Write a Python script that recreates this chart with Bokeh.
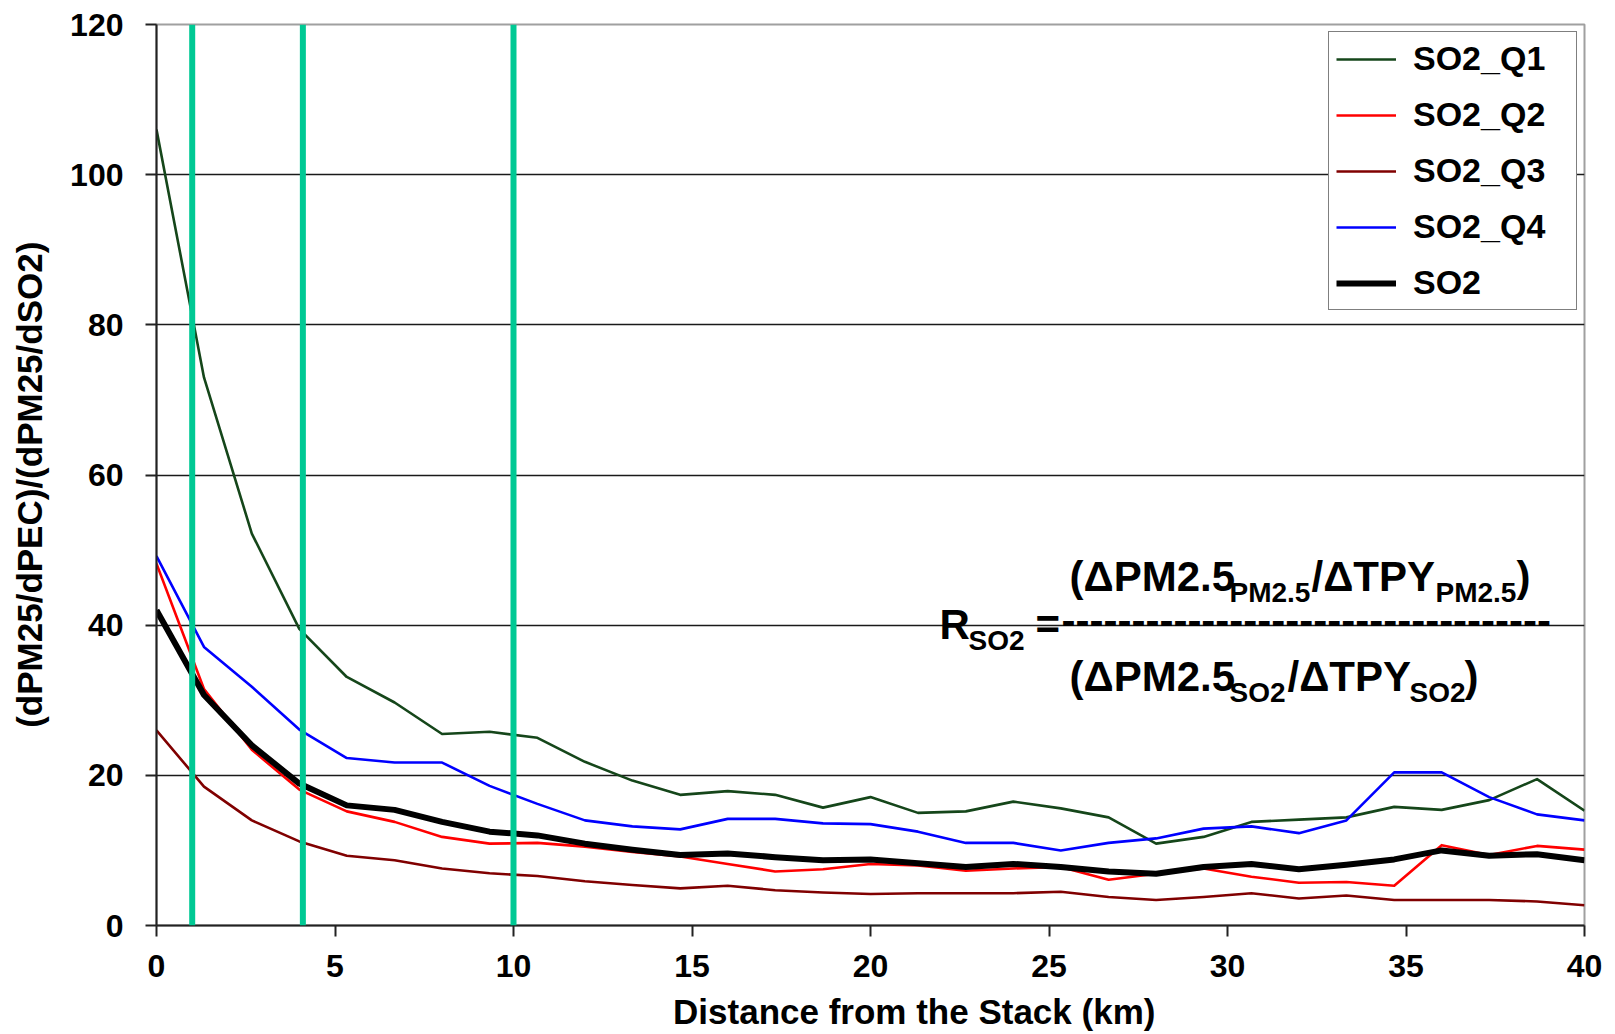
from bokeh.plotting import figure
from bokeh.models import Span, Label, Legend, LegendItem, FixedTicker, Range1d
from bokeh.embed import file_html
from bokeh.resources import INLINE

# ---------------- data ----------------
distance_km = [0, 1.33, 2.67, 4, 5.33, 6.67, 8, 9.33, 10.67, 12, 13.33, 14.67, 16,
               17.33, 18.67, 20, 21.33, 22.67, 24, 25.33, 26.67, 28, 29.33, 30.67,
               32, 33.33, 34.67, 36, 37.33, 38.67, 40]

so2_q1 = [106, 73, 52.2, 39.5, 33.1, 29.7, 25.5, 25.8, 25.0, 21.8, 19.3, 17.4, 17.9,
          17.4, 15.7, 17.1, 15.0, 15.2, 16.5, 15.6, 14.4, 10.9, 11.8, 13.8, 14.1,
          14.4, 15.8, 15.4, 16.7, 19.5, 15.3]
so2_q2 = [48.2, 31.5, 23.4, 18.1, 15.2, 13.8, 11.8, 10.9, 11.0, 10.5, 9.8, 9.2, 8.2,
          7.2, 7.5, 8.2, 8.0, 7.3, 7.6, 7.8, 6.1, 6.9, 7.6, 6.5, 5.7, 5.8, 5.3, 10.7,
          9.4, 10.6, 10.1]
so2_q3 = [26.0, 18.5, 14.0, 11.2, 9.3, 8.7, 7.6, 6.95, 6.6, 5.9, 5.4, 4.95, 5.3, 4.7,
          4.4, 4.2, 4.3, 4.3, 4.3, 4.5, 3.8, 3.4, 3.8, 4.3, 3.6, 4.0, 3.4, 3.4, 3.4,
          3.2, 2.7]
so2_q4 = [49.2, 37.1, 31.8, 26.1, 22.3, 21.7, 21.7, 18.6, 16.2, 14.0, 13.2, 12.8, 14.2,
          14.2, 13.6, 13.5, 12.5, 11.0, 11.0, 10.0, 11.0, 11.6, 12.9, 13.2, 12.3, 14.0,
          20.4, 20.4, 17.1, 14.8, 14.0]
so2_all = [42.0, 30.7, 24.0, 18.9, 16.0, 15.4, 13.8, 12.5, 12.0, 10.9, 10.1, 9.4, 9.6,
           9.1, 8.7, 8.8, 8.3, 7.8, 8.2, 7.8, 7.2, 6.9, 7.8, 8.2, 7.5, 8.1, 8.8, 10.0,
           9.3, 9.5, 8.7]

series_names = ["SO2_Q1", "SO2_Q2", "SO2_Q3", "SO2_Q4", "SO2"]
marker_km = [1, 4.1, 10]
x_ticks = [0, 5, 10, 15, 20, 25, 30, 35, 40]
y_ticks = [0, 20, 40, 60, 80, 100, 120]
grid_ticks = [20, 40, 60, 80, 100]
x_title = "Distance from the Stack (km)"
y_title = "(dPM25/dPEC)/(dPM25/dSO2)"

FONT = "Liberation Sans"
NBSP = "\u00a0"

# ---------------- figure ----------------
W, H = 1610, 1033
FL, FR, FT, FB = 156, 1584, 24, 926   # frame edges on the page
p = figure(width=W, height=H, x_range=Range1d(0, 40), y_range=Range1d(0, 120),
           output_backend="svg", toolbar_location=None,
           min_border_left=FL, min_border_right=W - FR, min_border_top=FT,
           min_border_bottom=H - FB, background_fill_color="white",
           border_fill_color="white")

p.outline_line_color = "#a0a0a0"
p.outline_line_width = 2

p.xgrid.grid_line_color = None
p.ygrid.ticker = FixedTicker(ticks=grid_ticks)
p.ygrid.grid_line_color = "#1a1a1a"
p.ygrid.grid_line_width = 1.6

p.xaxis.ticker = FixedTicker(ticks=x_ticks)
p.yaxis.ticker = FixedTicker(ticks=y_ticks)
for ax in (p.xaxis, p.yaxis):
    ax.axis_line_color = "#222222"
    ax.axis_line_width = 2
    ax.major_tick_line_color = "#222222"
    ax.major_tick_line_width = 2
    ax.major_tick_out = 11
    ax.major_tick_in = 0
    ax.minor_tick_line_color = None
    ax.major_label_text_font = FONT
    ax.major_label_text_font_size = "32px"
    ax.major_label_text_font_style = "bold"
    ax.major_label_text_color = "black"
    ax.axis_label_text_font = FONT
    ax.axis_label_text_font_size = "35px"
    ax.axis_label_text_font_style = "bold"
    ax.axis_label_text_color = "black"

# the reference titles sit off-centre: pad with non-breaking spaces
p.xaxis.axis_label = NBSP * 9 + x_title
p.xaxis.major_label_standoff = 18
p.xaxis.axis_label_standoff = 12
p.yaxis.axis_label = y_title + NBSP * 2
p.yaxis.major_label_standoff = 22
p.yaxis.axis_label_standoff = 18

# ---------------- lines ----------------
colors = ["#15461a", "#ff0000", "#800000", "#0000ff", "#000000"]
widths = [2.6, 2.6, 2.6, 2.6, 6]
values = [so2_q1, so2_q2, so2_q3, so2_q4, so2_all]
renderers = []
for vals, c, w in zip(values, colors, widths):
    r = p.line(distance_km, vals, line_color=c, line_width=w, line_join="round")
    renderers.append(r)

for m in marker_km:
    p.add_layout(Span(location=m, dimension="height", line_color="#00c994",
                      line_width=6))

legend = Legend(items=[LegendItem(label=n, renderers=[r])
                       for n, r in zip(series_names, renderers)],
                location="top_right", margin=7, padding=7, spacing=17,
                glyph_height=38, glyph_width=60, label_standoff=17,
                label_width=156, label_height=38,
                label_text_font=FONT, label_text_font_size="34px",
                label_text_font_style="bold", label_text_color="black",
                border_line_color="black", border_line_width=1.5,
                background_fill_color="white", background_fill_alpha=1)
p.add_layout(legend)


# ---------------- formula annotation ----------------
def px(xp, yp):
    return ((xp - FL) / (FR - FL) * 40.0, (FB - yp) / (FB - FT) * 120.0)


def add_text(txt, xp, yp, size):
    # alphabetic baseline is rendered ~0.33em lower than the anchor: compensate
    s = float(size.rstrip("px"))
    xd, yd = px(xp, yp - 0.33 * s)
    p.add_layout(Label(x=xd, y=yd, text=txt, text_font=FONT, text_font_size=size,
                       text_font_style="bold", text_color="black",
                       text_align="left", text_baseline="alphabetic"))


F, f = "42px", "28px"
pieces = [
    ("R", 939, 639, F), ("SO2", 968, 650, f), ("=", 1035, 639, F),
    ("-" * 35, 1061, 635, F),
    ("(ΔPM2.5", 1069, 590, F), ("PM2.5", 1229, 602, f), ("/ΔTPY", 1311, 590, F),
    ("PM2.5", 1435, 602, f), (")", 1516, 590, F),
    ("(ΔPM2.5", 1069, 691, F), ("SO2", 1229, 702, f), ("/ΔTPY", 1287, 691, F),
    ("SO2", 1409, 702, f), (")", 1464, 691, F),
]
for txt, xp, yp, size in pieces:
    add_text(txt, xp, yp, size)

open("out.html", "w").write(file_html(p, INLINE))
